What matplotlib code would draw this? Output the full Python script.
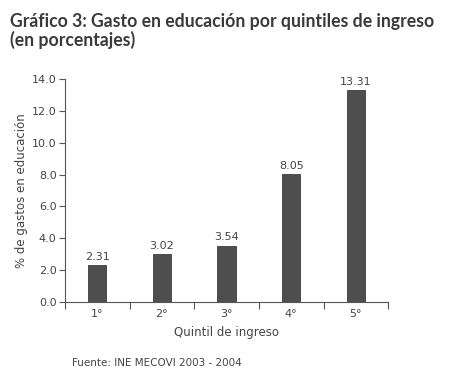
import matplotlib

matplotlib.use("Agg")

import matplotlib.pyplot as plt
import numpy as np

quintiles = ["1°", "2°", "3°", "4°", "5°"]
gasto = [2.31, 3.02, 3.54, 8.05, 13.31]
y_ticks = [0.0, 2.0, 4.0, 6.0, 8.0, 10.0, 12.0, 14.0]

text_color = "#444444"
bar_color = "#4e4e4e"

plt.rcParams["font.family"] = ["DejaVu Sans"]

fig = plt.figure(figsize=(4.54, 3.77), dpi=100)
ax = fig.add_axes([0.143, 0.199, 0.712, 0.591])

x = np.arange(len(quintiles))
ax.bar(x, gasto, width=0.28, color=bar_color, edgecolor="#3c3c3c", linewidth=0.6)
for xi, v in zip(x, gasto):
    ax.text(xi, v + 0.2, f"{v:.2f}", ha="center", va="bottom", fontsize=8, color=text_color)

ax.set_xlim(-0.5, len(quintiles) - 0.5)
ax.set_ylim(0, 14)
ax.set_yticks(y_ticks)
ax.set_yticklabels([f"{t:.1f}" for t in y_ticks], fontsize=8, color=text_color)

# category labels centred, tick marks on the boundaries
ax.set_xticks(np.arange(len(quintiles) + 1) - 0.5)
ax.set_xticklabels([])
ax.set_xticks(x, minor=True)
ax.set_xticklabels(quintiles, minor=True, fontsize=8, color=text_color)
ax.tick_params(axis="x", which="major", direction="out", length=5, width=0.8, color="#555555")
ax.tick_params(axis="x", which="minor", length=0, pad=5)
ax.tick_params(axis="y", direction="out", length=4, width=0.8, color="#555555", pad=2)

for side in ["top", "right"]:
    ax.spines[side].set_visible(False)
for side in ["left", "bottom"]:
    ax.spines[side].set_color("#555555")
    ax.spines[side].set_linewidth(0.8)

ax.set_xlabel("Quintil de ingreso", fontsize=8.5, color=text_color, labelpad=5)
ax.set_ylabel("% de gastos en educación", fontsize=8.5, color=text_color, labelpad=3)

fig.text(0.022, 0.928, "Gráfico 3: Gasto en educación por quintiles de ingreso",
         ha="left", va="baseline", fontsize=12.7, fontweight="bold", family="Lato", color="#3a3a3a")
fig.text(0.022, 0.879, "(en porcentajes)",
         ha="left", va="baseline", fontsize=12.7, fontweight="bold", family="Lato", color="#3a3a3a")
fig.text(0.159, 0.037, "Fuente: INE MECOVI 2003 - 2004", ha="left", va="center",
         fontsize=7.5, color=text_color)

fig.savefig("out.png", dpi=100)
